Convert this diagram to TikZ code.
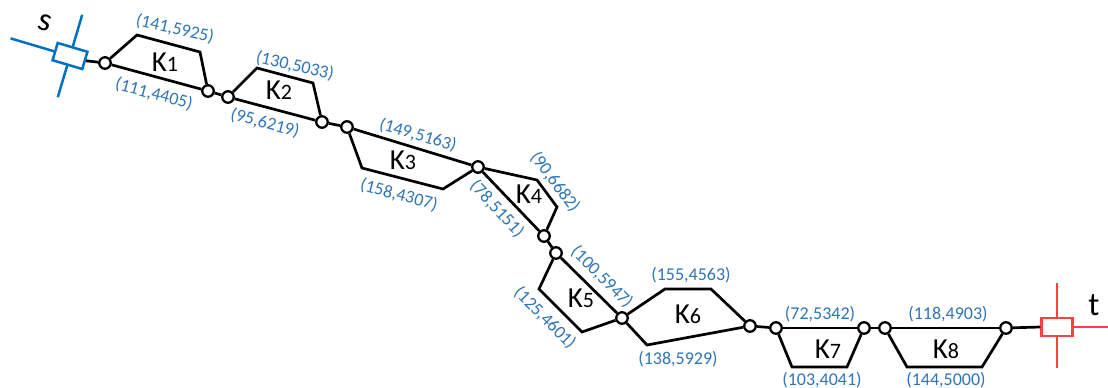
\documentclass[tikz,border=0pt]{standalone}
\usepackage{fontspec}
\setmainfont{Carlito}
\definecolor{labelblue}{RGB}{46,117,182}
\definecolor{srcblue}{RGB}{0,112,192}
\definecolor{sinkred}{RGB}{255,64,64}
\newcommand\kcomp[1]{{\fontsize{29}{30}\selectfont K}{\fontsize{22}{24}\selectfont #1}}
\begin{document}
\begin{tikzpicture}[x=1pt,y=-1pt,
  wire/.style={line width=2.7pt,black},
  jn/.style={circle,draw=black,fill=white,line width=2.3pt,inner sep=0pt,minimum size=11.5pt},
  lbl/.style={text=labelblue,font=\fontsize{18}{20}\selectfont,inner sep=0pt},
  kname/.style={inner sep=0pt,anchor=center},
  term/.style={line width=2.5pt}]
\useasboundingbox (0,0) rectangle (1108,388);

% junction points
\node[jn] (c1)  at (105,63)  {};
\node[jn] (c2)  at (208,91)  {};
\node[jn] (c3)  at (228,97)  {};
\node[jn] (c4)  at (322,122) {};
\node[jn] (c5)  at (347,127) {};
\node[jn] (c6)  at (478,167) {};
\node[jn] (c7)  at (544,236) {};
\node[jn] (c8)  at (556,253) {};
\node[jn] (c9)  at (622,318) {};
\node[jn] (c10) at (750,326) {};
\node[jn] (c11) at (776,328) {};
\node[jn] (c12) at (864,328) {};
\node[jn] (c13) at (885,328) {};
\node[jn] (c14) at (1006,328) {};

% source terminal s
\coordinate (sl) at (10.6,38.4);
\coordinate (st) at (82.2,14.8);
\coordinate (sb) at (57.8,97.2);
\draw[term,srcblue] (sl) -- (70,56);
\draw[term,srcblue] (st) -- (sb);
\node[draw=srcblue,term,fill=white,rotate=-16.5,minimum width=31pt,minimum height=18pt,inner sep=0pt] (sbox) at (70,56) {};
\node[rotate=-16.5,inner sep=0pt,font=\fontsize{33}{34}\selectfont] (slab) at (45,23) {s};

% sink terminal t
\coordinate (tt) at (1057,283);
\coordinate (tb) at (1057,368);
\coordinate (tr) at (1108,327);
\draw[term,sinkred] (tt) -- (tb);
\draw[term,sinkred] (1057,327) -- (tr);
\node[draw=sinkred,term,fill=white,minimum width=31pt,minimum height=18pt,inner sep=0pt] (tbox) at (1057,327) {};
\node[inner sep=0pt,font=\fontsize{33}{34}\selectfont] (tlab) at (1094,305) {t};

% series links
\draw[wire] (sbox.east) -- (c1);
\draw[wire] (c2) -- (c3);
\draw[wire] (c4) -- (c5);
\draw[wire] (c7) -- (c8);
\draw[wire] (c10) -- (c11);
\draw[wire] (c12) -- (c13);
\draw[wire] (c14) -- (tbox.west);

% K1
\draw[wire] (c1) -- (c2);
\draw[wire] (c1) -- (137,35) -- (200,52) -- (c2);
% K2
\draw[wire] (c3) -- (c4);
\draw[wire] (c3) -- (257,68) -- (313,83) -- (c4);
% K3
\draw[wire] (c5) -- (c6);
\draw[wire] (c5) -- (362,168) -- (443,189) -- (c6);
% K4
\draw[wire] (c6) -- (c7);
\draw[wire] (c6) -- (537,180) -- (557,207) -- (c7);
% K5
\draw[wire] (c8) -- (c9);
\draw[wire] (c8) -- (539,289) -- (582,332) -- (c9);
% K6
\draw[wire] (c9) -- (665,289) -- (711,289) -- (c10);
\draw[wire] (c9) -- (647,345) -- (c10);
% K7
\draw[wire] (c11) -- (c12);
\draw[wire] (c11) -- (792,367) -- (847,367) -- (c12);
% K8
\draw[wire] (c13) -- (c14);
\draw[wire] (c13) -- (907,367) -- (982,367) -- (c14);

% component names
\node[kname] (k1) at (165,62)  {\kcomp{1}};
\node[kname] (k2) at (279,90)  {\kcomp{2}};
\node[kname] (k3) at (403,160) {\kcomp{3}};
\node[kname] (k4) at (529,194) {\kcomp{4}};
\node[kname] (k5) at (581,298) {\kcomp{5}};
\node[kname] (k6) at (688,314) {\kcomp{6}};
\node[kname] (k7) at (828,349) {\kcomp{7}};
\node[kname] (k8) at (946,349) {\kcomp{8}};

% path parameters
\node[lbl,rotate=-13] (p1a) at (175,29)  {(141,5925)};
\node[lbl,rotate=-15] (p1b) at (154,94)  {(111,4405)};
\node[lbl,rotate=-13] (p2a) at (295,66)  {(130,5033)};
\node[lbl,rotate=-15] (p2b) at (265,123) {(95,6219)};
\node[lbl,rotate=-16] (p3a) at (418,135) {(149,5163)};
\node[lbl,rotate=-15] (p3b) at (399,195) {(158,4307)};
\node[lbl,rotate=-53] (p4a) at (555,182) {(90,6682)};
\node[lbl,rotate=-47] (p4b) at (497,209) {(78,5151)};
\node[lbl,rotate=-45] (p5a) at (602,277) {(100,5947)};
\node[lbl,rotate=-45] (p5b) at (545,318) {(125,4601)};
\node[lbl] (p6a) at (691,275) {(155,4563)};
\node[lbl] (p6b) at (678,359) {(138,5929)};
\node[lbl] (p7a) at (820,314) {(72,5342)};
\node[lbl] (p7b) at (822,380) {(103,4041)};
\node[lbl] (p8a) at (948,314) {(118,4903)};
\node[lbl] (p8b) at (946,380) {(144,5000)};
\end{tikzpicture}
\end{document}
